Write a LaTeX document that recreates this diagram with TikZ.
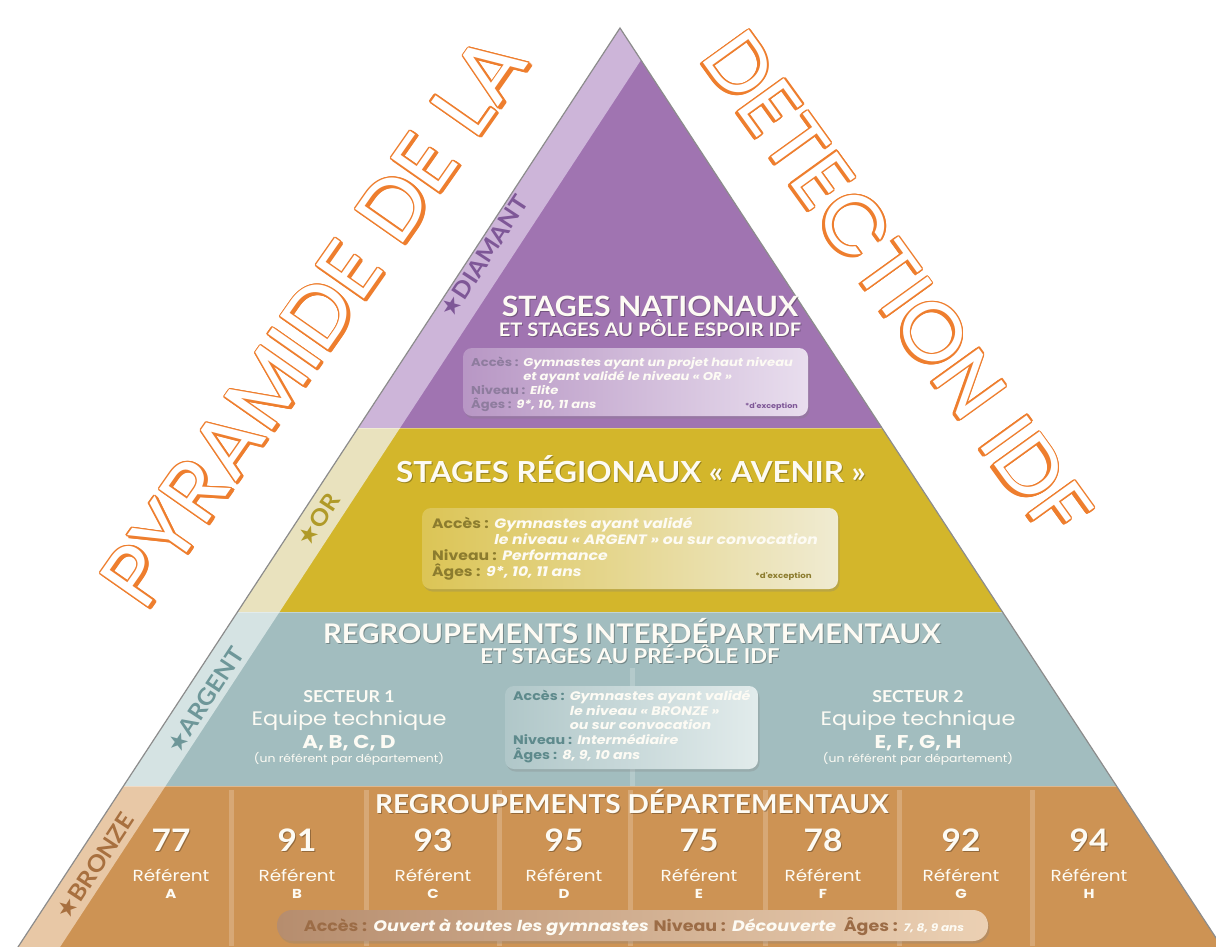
\documentclass[tikz,border=0pt]{standalone}
\usepackage{fontspec}
\setmainfont{Poppins}
\newfontfamily\headfont{Lato}[FakeStretch=1.08]
\newfontfamily\bodyfont{Poppins}[FakeStretch=1.15]
\newfontfamily\symfont{DejaVu Sans}
\newfontfamily\hollowfont{Poppins}[FakeStretch=1.05]
\usetikzlibrary{shadows}

\definecolor{purpleband}{HTML}{A074B1}
\definecolor{purplestrip}{HTML}{CDB5D9}
\definecolor{purpledark}{HTML}{7E5797}
\definecolor{purplelab}{HTML}{8E7C9E}
\definecolor{yellowband}{HTML}{D3B62B}
\definecolor{yellowstrip}{HTML}{E9E2BE}
\definecolor{yellowdark}{HTML}{B09A28}
\definecolor{yellowlab}{HTML}{8C7C2E}
\definecolor{tealband}{HTML}{A2BDBF}
\definecolor{tealstrip}{HTML}{D5E3E3}
\definecolor{tealdark}{HTML}{6E9799}
\definecolor{teallab}{HTML}{5E8A8C}
\definecolor{bronzeband}{HTML}{CD9354}
\definecolor{bronzestrip}{HTML}{E8C8A6}
\definecolor{bronzedark}{HTML}{A8703F}
\definecolor{bronzelab}{HTML}{9C6C46}
\definecolor{bronzepill}{HTML}{B68D6E}
\definecolor{ink}{HTML}{FDFBF4}
\definecolor{orangeline}{HTML}{EE7E2E}
\definecolor{edgegray}{HTML}{8C8C8C}

\colorlet{labc}{purplelab}
\newcommand\lab[1]{{\bfseries\color{labc}#1}}
\newcommand\val[1]{{\bfseries\itshape\color{ink}#1}}

\tikzset{
  htitle/.style={inner sep=0, anchor=base, text=ink},
  hshade/.style={inner sep=0, anchor=base, text=black, opacity=0.28},
  infobox/.style={rounded corners=9pt, draw=none, inner sep=0,
    drop shadow={opacity=0.28, shadow xshift=1.5pt, shadow yshift=-2.5pt}},
  infoline/.style={inner sep=0, anchor=base west},
  sidelabel/.style={inner sep=0, anchor=center, rotate=56.8,
    font=\headfont\bfseries\fontsize{23}{23}\selectfont},
  sepline/.style={line width=5pt, draw=white, opacity=0.2},
  hollow/.style={inner sep=0, anchor=center,
    font=\hollowfont\fontsize{#1}{#1}\selectfont},
}

% title text with a soft dark copy behind it
\newcommand\header[5]{%
  \node[hshade, font=\headfont\bfseries\fontsize{#4}{#4}\selectfont,
        xshift=1pt, yshift=-1.2pt] (#1-sh) at (#2,#3) {#5};
  \node[htitle, font=\headfont\bfseries\fontsize{#4}{#4}\selectfont] (#1) at (#2,#3) {#5};
}

% hollow lettering: thin orange rim, white fill, solid orange depth below
% #1 name, #2 position, #3 angle, #4 size, #5 text
\newcommand\hollowtext[5]{%
  \foreach \a in {0,45,...,315}{
    \node[hollow=#4, text=orangeline, rotate=#3, xshift={1.3pt*cos(\a)},
          yshift={-2.6pt+1.3pt*sin(\a)}] (#1-sh\a) at #2 {#5};}
  \foreach \a in {0,30,...,330}{
    \node[hollow=#4, text=orangeline, rotate=#3, xshift={1.3pt*cos(\a)},
          yshift={1.3pt*sin(\a)}] (#1-rim\a) at #2 {#5};}
  \node[hollow=#4, text=white, rotate=#3] (#1) at #2 {#5};
}

\newcommand\starsym{{\symfont\fontsize{24}{24}\selectfont ★}}

\begin{document}
\begin{tikzpicture}[x=1pt,y=-1pt]
\useasboundingbox (0,0) rectangle (1216,946);
\fill[white] (0,0) rectangle (1216,946);

\begin{scope}
\clip (0,0) rectangle (1216,946);
% bands
\fill[purpleband] (620,28) -- (882,428) -- (358,428) -- cycle;
\fill[yellowband] (358,428) -- (882,428) -- (1002.5,612) -- (237.5,612) -- cycle;
\fill[tealband] (237.5,612) -- (1002.5,612) -- (1116.5,786) -- (123.5,786) -- cycle;
\fill[bronzeband] (123.5,786) -- (1116.5,786) -- (1230.5,960) -- (9.5,960) -- cycle;
% light strips along the left side
\fill[purplestrip] (620,28) -- (641,60) -- (400,428) -- (358,428) -- cycle;
\fill[yellowstrip] (358,428) -- (400,428) -- (279.5,612) -- (237.5,612) -- cycle;
\fill[tealstrip] (237.5,612) -- (279.5,612) -- (165.5,786) -- (123.5,786) -- cycle;
\fill[bronzestrip] (123.5,786) -- (165.5,786) -- (51.5,960) -- (9.5,960) -- cycle;
% band joints
\draw[white, opacity=0.35, line width=1pt] (358,428) -- (882,428);
\draw[white, opacity=0.35, line width=1pt] (237.5,612) -- (1002.5,612);
\draw[white, opacity=0.35, line width=1pt] (123.5,786) -- (1116.5,786);
% column separators
\foreach \x in {231,366,499,630,765,899,1032}
  \draw[sepline] (\x,790) -- (\x,946);
\draw[sepline] (632,668) -- (632,786);
% outline of the pyramid
\draw[edgegray, line width=1.2pt] (9.5,960) -- (620,28) -- (1230.5,960);
\end{scope}

% ---------- DIAMANT ----------
\header{t1}{650}{316}{28}{STAGES NATIONAUX}
\header{t1b}{650}{336}{18.6}{ET STAGES AU PÔLE ESPOIR IDF}
\node[infobox, minimum width=345pt, minimum height=68pt,
      left color=purpleband!75!white, right color=purplestrip!45!white] (pbox) at (635.5,382) {};
\begin{scope}[font=\bodyfont\fontsize{11.4}{12}\selectfont]
\colorlet{labc}{purplelab}
\node[infoline] (p1) at (471,366) {\lab{Accès :} \val{Gymnastes ayant un projet haut niveau}};
\node[infoline] (p2) at (471,380) {\phantom{\lab{Accès :} }\val{et ayant validé le niveau « OR »}};
\node[infoline] (p3) at (471,394) {\lab{Niveau :} \val{Elite}};
\node[infoline] (p4) at (471,408) {\lab{Âges :} \val{9*, 10, 11 ans}};
\end{scope}
\node[inner sep=0, anchor=base east, text=purpledark,
      font=\bodyfont\bfseries\fontsize{7}{7}\selectfont] (p5) at (798,408) {*d'exception};

% ---------- OR ----------
\header{t2}{631}{482}{29}{STAGES RÉGIONAUX « AVENIR »}
\node[infobox, minimum width=416pt, minimum height=81pt,
      left color=yellowband!80!white, right color=yellowstrip!70!white] (ybox) at (630,548.5) {};
\begin{scope}[font=\bodyfont\fontsize{13.6}{14}\selectfont]
\colorlet{labc}{yellowlab}
\node[infoline] (y1) at (432,528) {\lab{Accès :} \val{Gymnastes ayant validé}};
\node[infoline] (y2) at (432,544) {\phantom{\lab{Accès :} }\val{le niveau « ARGENT » ou sur convocation}};
\node[infoline] (y3) at (432,560) {\lab{Niveau :} \val{Performance}};
\node[infoline] (y4) at (432,576) {\lab{Âges :} \val{9*, 10, 11 ans}};
\end{scope}
\node[inner sep=0, anchor=base east, text=yellowlab,
      font=\bodyfont\bfseries\fontsize{7.5}{8}\selectfont] (y5) at (812,578) {*d'exception};

% ---------- ARGENT ----------
\header{t3}{632}{643}{27}{REGROUPEMENTS INTERDÉPARTEMENTAUX}
\header{t3b}{630}{663}{20.5}{ET STAGES AU PRÉ-PÔLE IDF}
\node[infobox, minimum width=253pt, minimum height=83pt,
      left color=tealband!85!white, right color=tealstrip!70!white] (tbox) at (631.5,727.5) {};
\begin{scope}[font=\bodyfont\fontsize{12.4}{13}\selectfont]
\colorlet{labc}{teallab}
\node[infoline] (a1) at (513,700) {\lab{Accès :} \val{Gymnastes ayant validé}};
\node[infoline] (a2) at (513,715) {\phantom{\lab{Accès :} }\val{le niveau « BRONZE »}};
\node[infoline] (a3) at (513,729) {\phantom{\lab{Accès :} }\val{ou sur convocation}};
\node[infoline] (a4) at (513,744) {\lab{Niveau :} \val{Intermédiaire}};
\node[infoline] (a5) at (513,759) {\lab{Âges :} \val{8, 9, 10 ans}};
\end{scope}

\foreach \x/\s/\l in {349/1/{A, B, C, D}, 918/2/{E, F, G, H}}{
  \node[htitle, font=\headfont\bfseries\fontsize{16.4}{16}\selectfont] (sec\s) at (\x,702) {SECTEUR \s};
  \node[htitle, font=\bodyfont\fontsize{19.5}{20}\selectfont] (eq\s) at (\x,725) {Equipe technique};
  \node[htitle, font=\bodyfont\bfseries\fontsize{18.5}{19}\selectfont] (let\s) at (\x,748) {\l};
  \node[htitle, font=\bodyfont\fontsize{10.8}{11}\selectfont] (ref\s) at (\x,762) {(un référent par département)};
}

% ---------- BRONZE ----------
\header{t4}{632}{813}{26}{REGROUPEMENTS DÉPARTEMENTAUX}
\foreach \x/\n/\r in {171/77/A, 297/91/B, 433/93/C, 564/95/D, 699/75/E, 823/78/F, 961/92/G, 1089/94/H}{
  \node[hshade, font=\headfont\bfseries\fontsize{31}{31}\selectfont, xshift=1pt, yshift=-1.2pt] (dep\n-sh) at (\x,851) {\n};
  \node[htitle, font=\headfont\bfseries\fontsize{31}{31}\selectfont] (dep\n) at (\x,851) {\n};
  \node[htitle, font=\bodyfont\fontsize{16}{16}\selectfont] (refw\r) at (\x,881) {Référent};
  \node[htitle, font=\bodyfont\bfseries\fontsize{13}{13}\selectfont] (refl\r) at (\x,898) {\r};
}
\node[infobox, rounded corners=15pt, minimum width=711pt, minimum height=31pt,
      left color=bronzepill, right color=bronzestrip!85!white] (bbox) at (632.5,925.5) {};
\begin{scope}
\colorlet{labc}{bronzelab}
\node[inner sep=0, anchor=base, font=\bodyfont\fontsize{15.2}{15}\selectfont] (b1) at (634,931)
  {\lab{Accès :} \val{Ouvert à toutes les gymnastes} \lab{Niveau :} \val{Découverte}\enspace
   \lab{Âges :} {\fontsize{10.5}{11}\selectfont\val{7, 8, 9 ans}}};
\end{scope}

% ---------- level labels along the left side ----------
\node[sidelabel, text=purpledark] (diamant) at (484,256) {\starsym DIAMANT};
\node[sidelabel, text=yellowdark] (or) at (318,520) {\starsym OR};
\node[sidelabel, text=tealdark] (argent) at (205,700) {\starsym ARGENT};
\node[sidelabel, text=bronzedark] (bronze) at (95,866) {\starsym BRONZE};

% ---------- title lettering ----------
\hollowtext{pyr}{(314,320)}{55}{84}{PYRAMIDE DE LA}
\hollowtext{det}{(898,284)}{-54.2}{81}{DETECTION IDF}
\end{tikzpicture}
\end{document}
